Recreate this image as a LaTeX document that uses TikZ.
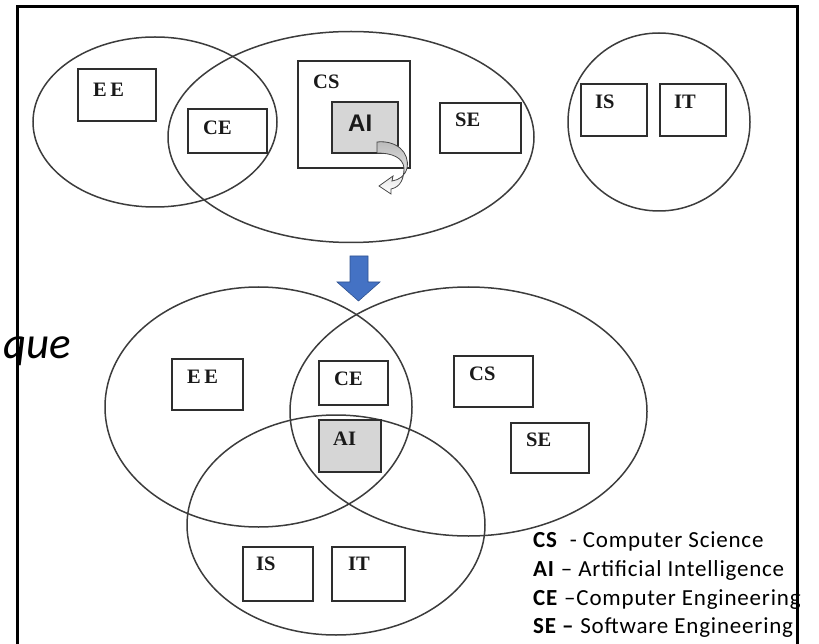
\documentclass[tikz,border=0pt]{standalone}
\usepackage{fontspec}
\setmainfont{Liberation Serif}
\newfontfamily\legendfont[LetterSpace=3.5]{Carlito}
\newfontfamily\quefont{Carlito}
\newfontfamily\headsans{Liberation Sans}
\usetikzlibrary{shapes.geometric}
\definecolor{setline}{HTML}{3C3C3C}
\definecolor{boxline}{HTML}{2E2E2E}
\definecolor{aigrey}{HTML}{D6D6D6}
\definecolor{arrowblue}{HTML}{4472C4}
\definecolor{arrowedge}{HTML}{2F528F}
\tikzset{
  ring/.style={ellipse, draw=setline, line width=1.5pt, inner sep=0pt, outer sep=0pt},
  box/.style={rectangle, draw=boxline, line width=1.8pt, inner sep=0pt, outer sep=0pt, fill=white},
  aibox/.style={box, fill=aigrey},
  lbl/.style={anchor=north west, inner sep=0pt, xshift=15pt, yshift=-11pt,
    font=\fontsize{20.5}{24}\selectfont\bfseries, text=black!90},
  legend/.style={anchor=base west, inner sep=0pt,
    font=\legendfont\fontsize{23}{27}\selectfont},
}
\begin{document}
\begin{tikzpicture}[x=1pt, y=-1pt]
\useasboundingbox (0,0) rectangle (819,644);

% outer frame (its bottom edge lies below the page)
\draw[line width=3pt, black] (17,660) -- (17,7) -- (797,7) -- (797,660);

% ---------- upper arrangement ----------
\node[ring, minimum width=244pt, minimum height=170pt] (tEEset) at (155,122) {};
\node[ring, minimum width=366pt, minimum height=211pt] (tCSset) at (351,137) {};
\node[ring, minimum width=182pt, minimum height=178pt] (tISset) at (659,122) {};

\node[box, minimum width=78pt, minimum height=52pt] (tEE) at (117,95) {};
\node[lbl, yshift=-3pt] at (tEE.north west) {E\,E};
\node[box, minimum width=79pt, minimum height=44pt] (tCE) at (227.5,131) {};
\node[lbl, yshift=-1pt] at (tCE.north west) {CE};
\node[box, minimum width=112pt, minimum height=107pt] (tCS) at (354,114.5) {};
\node[lbl, yshift=-3pt] at (tCS.north west) {CS};
\node[aibox, minimum width=66pt, minimum height=51pt] (tAI) at (365,127.5) {};
\node[lbl, xshift=1pt, yshift=-2pt, font=\headsans\fontsize{24}{27}\selectfont\bfseries] at (tAI.north west) {AI};
\node[box, minimum width=81pt, minimum height=50pt] (tSE) at (480.5,128) {};
\node[lbl, yshift=1pt] at (tSE.north west) {SE};
\node[box, minimum width=66pt, minimum height=52pt] (tIS) at (614,110) {};
\node[lbl, xshift=-1pt] at (tIS.north west) {IS};
\node[box, minimum width=66pt, minimum height=52pt] (tIT) at (693,110) {};
\node[lbl, xshift=-1pt] at (tIT.north west) {IT};

% curled arrow leaving the AI box
\shade[top color=gray!55, bottom color=white, draw=gray!55!black, line width=0.8pt]
  (377,142) .. controls (396,140) and (410,152) .. (407,168)
  .. controls (405,176) and (399,180) .. (392,181)
  -- (393,176) -- (379,186) -- (391,194) -- (391,189)
  .. controls (401,187) and (404,178) .. (404,168)
  .. controls (403,158) and (393,153) .. (377,153) -- cycle;

% ---------- transition arrow ----------
\fill[arrowblue, draw=arrowedge, line width=0.6pt]
  (350,256) -- (368,256) -- (368,282) -- (380,282) -- (358.5,301)
  -- (337,282) -- (350,282) -- cycle;

% ---------- lower arrangement ----------
\node[ring, minimum width=307pt, minimum height=240pt] (bEEset) at (258.5,407) {};
\node[ring, minimum width=357pt, minimum height=249pt] (bCSset) at (468.5,411.5) {};
\node[ring, minimum width=298pt, minimum height=220pt] (bISset) at (336,525) {};

\node[box, minimum width=71pt, minimum height=51pt] (bEE) at (207.5,384.5) {};
\node[lbl] at (bEE.north west) {E\,E};
\node[box, minimum width=69pt, minimum height=44pt] (bCE) at (353.5,383) {};
\node[lbl] at (bCE.north west) {CE};
\node[aibox, minimum width=62pt, minimum height=52pt] (bAI) at (350,446) {};
\node[lbl, xshift=-1pt, yshift=-1pt] at (bAI.north west) {AI};
\node[box, minimum width=70pt, minimum height=54pt] (bIS) at (278,574) {};
\node[lbl, xshift=-2pt, yshift=1pt] at (bIS.north west) {IS};
\node[box, minimum width=73pt, minimum height=54pt] (bIT) at (368.5,574) {};
\node[lbl, xshift=1pt, yshift=1pt] at (bIT.north west) {IT};
\node[box, minimum width=79pt, minimum height=51pt] (bCS) at (493.5,381.5) {};
\node[lbl] at (bCS.north west) {CS};
\node[box, minimum width=78pt, minimum height=50pt] (bSE) at (550,448) {};
\node[lbl, yshift=1pt] at (bSE.north west) {SE};

% ---------- legend ----------
\node[legend] (legCS) at (533,547) {\textbf{CS}\ \ - Computer Science};
\node[legend] (legAI) at (533,576) {\textbf{AI} – Artificial Intelligence};
\node[legend] (legCE) at (533,605) {\textbf{CE} –Computer Engineering};
\node[legend] (legSE) at (533,633) {\textbf{SE –} Software Engineering};

% caption fragment on the left edge
\node[anchor=base east, inner sep=0pt, font=\quefont\itshape\fontsize{45}{50}\selectfont] (que) at (71,358) {que};
\end{tikzpicture}
\end{document}
